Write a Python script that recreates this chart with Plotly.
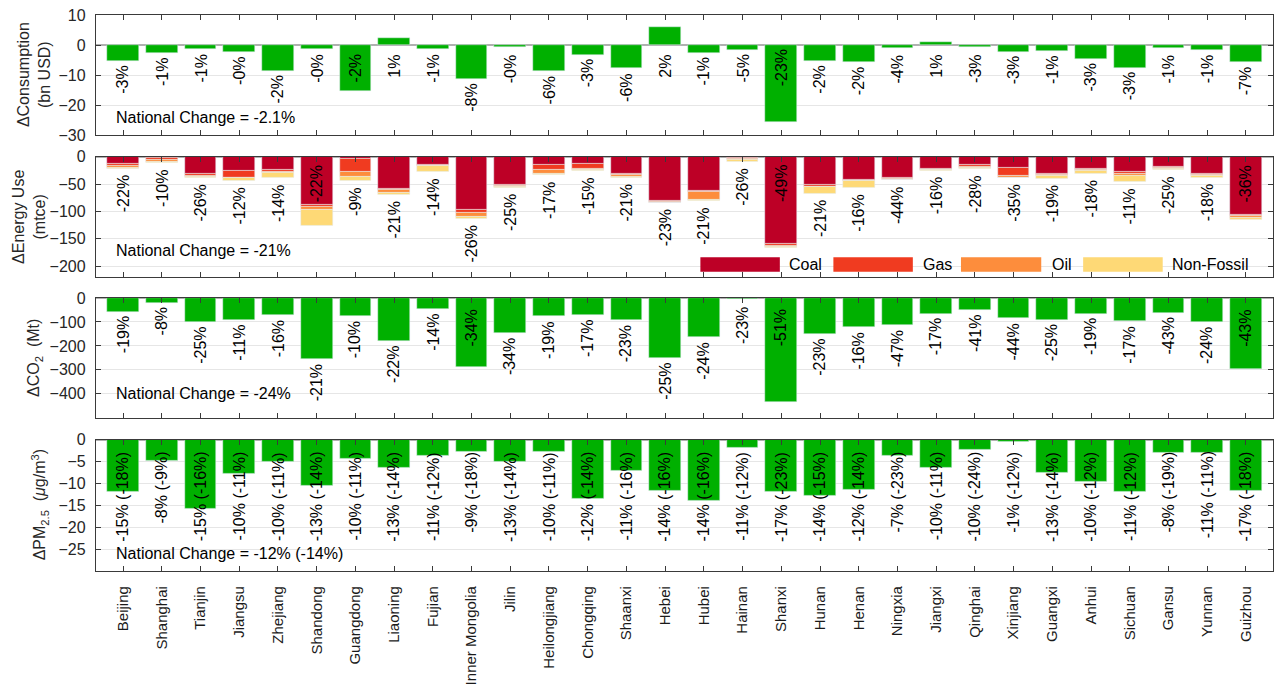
import plotly.graph_objects as go

# ---------------- data ----------------
provinces = ["Beijing", "Shanghai", "Tianjin", "Jiangsu", "Zhejiang", "Shandong",
             "Guangdong", "Liaoning", "Fujian", "Inner Mongolia", "Jilin",
             "Heilongjiang", "Chongqing", "Shaanxi", "Hebei", "Hubei", "Hainan",
             "Shanxi", "Hunan", "Henan", "Ningxia", "Jiangxi", "Qinghai",
             "Xinjiang", "Guangxi", "Anhui", "Sichuan", "Gansu", "Yunnan", "Guizhou"]

consumption = [-5.2, -2.7, -1.2, -2.2, -8.5, -1.2, -15.4, 2.3, -1.2, -11.4, -0.6, -8.8,
               -3.2, -7.8, 5.9, -2.5, -1.5, -25.6, -5.2, -5.8, -0.9, 1.0, -0.6, -2.2,
               -1.9, -4.5, -7.5, -0.9, -1.5, -5.8]
consumption_pct = ["-3%", "-1%", "-1%", "-0%", "-2%", "-0%", "-2%", "1%", "-1%", "-8%",
                   "-0%", "-6%", "-3%", "-6%", "2%", "-1%", "-5%", "-23%", "-2%", "-2%",
                   "-4%", "1%", "-3%", "-3%", "-1%", "-3%", "-3%", "-1%", "-1%", "-7%"]

coal = [-13.3, -2.4, -31.5, -25.5, -23.6, -87.3, -4.2, -57.6, -14.5, -97.0, -51.0, -15.0,
        -13.3, -30.3, -81.0, -63.0, -2.4, -158.7, -51.5, -41.8, -38.7, -21.8, -14.5, -20.6,
        -30.9, -22.4, -27.9, -18.2, -31.5, -106.0]
gas = [-3.0, -2.4, -2.4, -12.0, -3.6, -4.8, -22.4, -3.0, -1.2, -5.5, -2.4, -8.5,
       -8.5, -3.0, -1.2, -1.2, -1.2, -3.0, -2.4, -1.2, -1.2, -1.2, -3.0, -14.5,
       -1.2, -1.2, -2.4, -2.4, -1.8, -1.8]
oil = [-3.0, -3.6, -2.4, -1.5, -1.2, -4.2, -10.3, -6.0, -1.2, -6.7, -1.2, -6.7,
       -2.4, -3.0, -1.2, -14.5, -1.8, -3.0, -1.8, -1.2, -1.2, -1.2, -2.4, -2.4,
       -1.8, -1.8, -4.8, -1.8, -1.8, -3.6]
nonfossil = [-2.5, -2.4, -1.8, -5.0, -9.7, -29.0, -6.7, -3.0, -10.3, -3.6, -1.2, -2.4,
             -1.2, -1.8, -0.6, -1.2, -3.0, -1.8, -11.6, -12.0, -1.8, -1.2, -1.8, -0.6,
             -6.0, -6.0, -10.9, -1.8, -3.0, -3.6]
energy_pct = ["-22%", "-10%", "-26%", "-12%", "-14%", "-22%", "-9%", "-21%", "-14%", "-26%",
              "-25%", "-17%", "-15%", "-21%", "-23%", "-21%", "-26%", "-49%", "-21%", "-16%",
              "-44%", "-16%", "-28%", "-35%", "-19%", "-18%", "-11%", "-25%", "-18%", "-36%"]

co2 = [-56.6, -19.3, -99.3, -89.7, -70.3, -255.0, -77.0, -180.7, -44.0, -288.0, -147.6, -77.0,
       -70.0, -93.8, -251.0, -164.0, -5.5, -432.0, -151.7, -122.8, -114.5, -64.8, -48.3, -85.5,
       -89.7, -64.8, -98.0, -60.7, -102.0, -296.6]
co2_pct = ["-19%", "-8%", "-25%", "-11%", "-16%", "-21%", "-10%", "-22%", "-14%", "-34%",
           "-34%", "-19%", "-17%", "-23%", "-25%", "-24%", "-23%", "-51%", "-23%", "-16%",
           "-47%", "-17%", "-41%", "-44%", "-25%", "-19%", "-17%", "-43%", "-24%", "-43%"]

pm25 = [-11.85, -4.86, -15.8, -7.8, -5.1, -10.6, -4.3, -6.4, -3.6, -2.7, -5.1, -2.7,
        -13.45, -7.1, -11.7, -14.0, -1.8, -11.9, -12.8, -11.4, -3.65, -6.4, -2.3, -0.45,
        -7.6, -9.65, -11.9, -2.96, -2.96, -11.6]
pm25_pct = ["-15% (-18%)", "-8% (-9%)", "-15% (-16%)", "-10% (-11%)", "-10% (-11%)",
            "-13% (-14%)", "-10% (-11%)", "-13% (-14%)", "-11% (-12%)", "-9% (-18%)",
            "-13% (-14%)", "-10% (-11%)", "-12% (-14%)", "-11% (-16%)", "-14% (-16%)",
            "-14% (-16%)", "-11% (-12%)", "-17% (-23%)", "-14% (-15%)", "-12% (-14%)",
            "-7% (-23%)", "-10% (-11%)", "-10% (-24%)", "-1% (-12%)", "-13% (-14%)",
            "-10% (-12%)", "-11% (-12%)", "-8% (-19%)", "-11% (-11%)", "-17% (-18%)"]

national_change = ["National Change = -2.1%", "National Change = -21%",
                   "National Change = -24%", "National Change = -12% (-14%)"]
national_y = [-24, -171, -400, -26]

y_titles = ["ΔConsumption<br>(bn USD)", "ΔEnergy Use<br>(mtce)",
            "ΔCO<sub>2</sub>  (Mt)", "ΔPM<sub>2.5</sub>  (<i>μ</i>g/m<sup>3</sup>)"]
y_ranges = [[-30, 10], [-220, 0], [-500, 0], [-30, 0]]
y_ticks = [[10, 0, -10, -20, -30], [0, -50, -100, -150, -200],
           [0, -100, -200, -300, -400], [0, -5, -10, -15, -20, -25]]

fuel_names = ["Coal", "Gas", "Oil", "Non-Fossil"]
fuel_colors = ["#bd0026", "#f03b20", "#fd8d3c", "#fed976"]
GREEN = "#00b000"

# ---------------- layout geometry ----------------
W, H = 1276, 687
ML, MR, MT, MB = 96, 2, 15, 112
plot_h = H - MT - MB
plot_w = W - ML - MR
panel_px = [(15, 136), (157.7, 279), (300, 420.7), (442.7, 575)]
domains = [[(H - MB - b) / plot_h, (H - MB - t) / plot_h] for t, b in panel_px]
domains[0][1] = 1.0
domains[3][0] = 0.0

FONT = "Liberation Sans, Arial, Helvetica, sans-serif"
AX = "#3a3a3a"

fig = go.Figure()

# panel 1
fig.add_trace(go.Bar(x=provinces, y=consumption, marker_color=GREEN, width=0.82,
                     showlegend=False, xaxis="x", yaxis="y"))
# panel 2 stacked
for vals, name, col in zip([coal, gas, oil, nonfossil], fuel_names, fuel_colors):
    fig.add_trace(go.Bar(x=provinces, y=vals, name=name, marker_color=col, width=0.82,
                         showlegend=False, xaxis="x2", yaxis="y2"))
# panel 3
fig.add_trace(go.Bar(x=provinces, y=co2, marker_color=GREEN, width=0.82,
                     showlegend=False, xaxis="x3", yaxis="y3"))
# panel 4
fig.add_trace(go.Bar(x=provinces, y=pm25, marker_color=GREEN, width=0.82,
                     showlegend=False, xaxis="x4", yaxis="y4"))

layout = dict(width=W, height=H, margin=dict(l=ML, r=MR, t=MT, b=MB),
              barmode="relative", bargap=0, plot_bgcolor="white", paper_bgcolor="white",
              font=dict(family=FONT, size=16, color="#262626"))

for i in range(4):
    sx = "" if i == 0 else str(i + 1)
    layout["xaxis" + sx] = dict(
        domain=[0, 1], anchor="y" + sx, type="category",
        categoryorder="array", categoryarray=provinces,
        range=[-0.7, len(provinces) - 0.3],
        showline=True, linecolor=AX, linewidth=1.3, mirror="ticks",
        ticks="inside", ticklen=5, tickwidth=1, tickcolor=AX,
        showgrid=False, showticklabels=(i == 3), tickangle=-90,
        tickfont=dict(size=15, color="#1a1a1a"), ticklabelstandoff=8,
        **({} if i == 0 else {"matches": "x"}))
    layout["yaxis" + sx] = dict(
        domain=domains[i], anchor="x" + sx, range=y_ranges[i],
        tickvals=y_ticks[i], showline=True, linecolor=AX, linewidth=1.3, mirror="ticks",
        ticks="inside", ticklen=5, tickwidth=1, tickcolor=AX,
        showgrid=True, gridcolor="#e6e6e6", gridwidth=1,
        zeroline=True, zerolinecolor="#b0b0b0", zerolinewidth=2,
        tickfont=dict(size=16, color="#262626"), ticklabelstandoff=6)

annotations = []
shapes = []

panel_px_per_unit = [((b - t) / (r[1] - r[0])) for (t, b), r in zip(panel_px, y_ranges)]

label_cfg = [
    # totals, texts, inside threshold, gap px, min offset px, inside offset px, inside anchor
    (consumption, consumption_pct, -13, 3, 8, 23, "middle"),
    ([c + g + o + n for c, g, o, n in zip(coal, gas, oil, nonfossil)], energy_pct, -114, 5, 10, 27, "middle"),
    (co2, co2_pct, -270, 3, 7, 30, "middle"),
    (pm25, pm25_pct, 1e9, 3, 7, 10, "top"),
]

for i, (tot, txt, thr, gap, minoff, ioff, ianchor) in enumerate(label_cfg):
    sx = "" if i == 0 else str(i + 1)
    ppu = panel_px_per_unit[i]
    for p, v, t in zip(provinces, tot, txt):
        if v < thr:
            annotations.append(dict(x=p, y=0, xref="x" + sx, yref="y" + sx, text=t,
                                    textangle=-90, showarrow=False, yanchor=ianchor,
                                    xanchor="center", yshift=-ioff,
                                    font=dict(size=16, color="black")))
        else:
            end = min(v, 0)
            shift = max(gap, minoff - (-end) * ppu)
            annotations.append(dict(x=p, y=end, xref="x" + sx, yref="y" + sx, text=t,
                                    textangle=-90, showarrow=False, yanchor="top",
                                    xanchor="center", yshift=-shift,
                                    font=dict(size=16, color="black")))
    # national change text
    annotations.append(dict(x=0.015, xref="x" + sx + " domain", y=national_y[i], yref="y" + sx,
                            text=national_change[i], showarrow=False, xanchor="left",
                            yanchor="middle", font=dict(size=16, color="black")))
    # y title
    title_x = [34, 29, 35, 40][i]
    annotations.append(dict(x=(title_x - ML) / plot_w, xref="paper", y=0.5, yref="y" + sx + " domain",
                            text=y_titles[i], textangle=-90, showarrow=False,
                            xanchor="center", yanchor="middle",
                            font=dict(size=16, color="#262626")))

# manual legend (panel 2)
leg_box = [(0.5135, 0.5810), (0.6265, 0.6940), (0.7349, 0.8031), (0.8387, 0.9063)]
leg_text_x = [0.5873, 0.7009, 0.8104, 0.9126]
for (x0, x1), tx, name, col in zip(leg_box, leg_text_x, fuel_names, fuel_colors):
    shapes.append(dict(type="rect", xref="x2 domain", yref="y2 domain", x0=x0, x1=x1,
                       y0=0.044, y1=0.165, fillcolor=col, line=dict(width=0), layer="above"))
    annotations.append(dict(x=tx, xref="x2 domain", y=0.105, yref="y2 domain", text=name,
                            showarrow=False, xanchor="left", yanchor="middle",
                            font=dict(size=16, color="black")))

layout["annotations"] = annotations
layout["shapes"] = shapes
fig.update_layout(**layout)

fig.write_html("out.html")
